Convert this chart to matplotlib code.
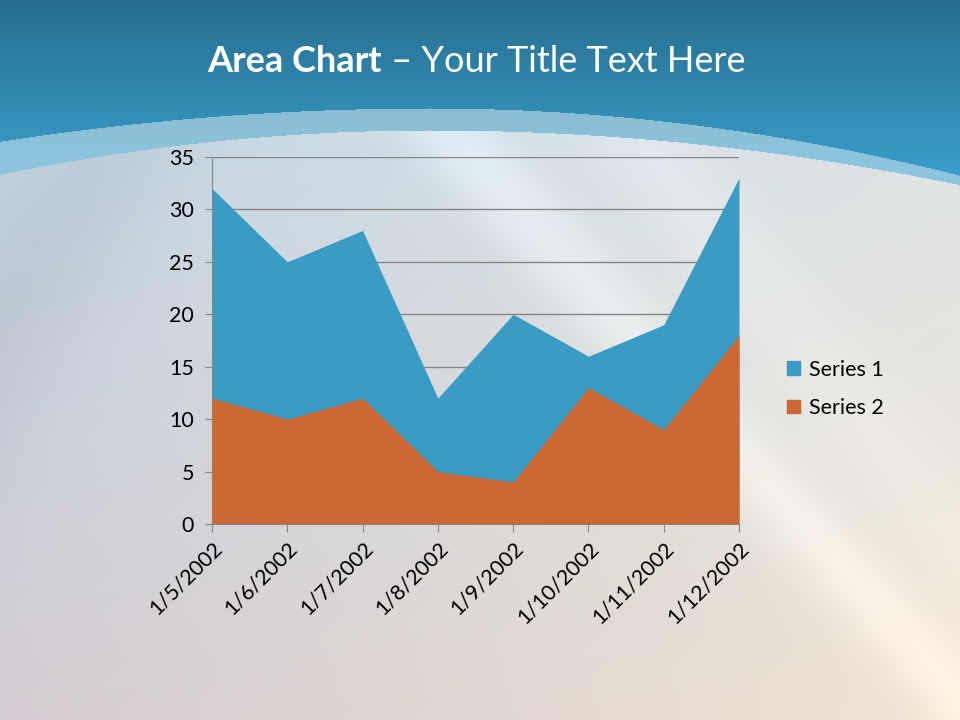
import numpy as np
import matplotlib.pyplot as plt
from matplotlib.patches import Patch

dates = ['1/5/2002', '1/6/2002', '1/7/2002', '1/8/2002',
         '1/9/2002', '1/10/2002', '1/11/2002', '1/12/2002']
series1 = [32, 25, 28, 12, 20, 16, 19, 33]
series2 = [12, 10, 12, 5, 4, 13, 9, 18]
yticks = [0, 5, 10, 15, 20, 25, 30, 35]

c_blue = '#3a9bc4'
c_orange = '#cc6833'
font = 'Lato'

W, H = 960, 720
fig = plt.figure(figsize=(W / 100, H / 100), dpi=100)

# ---- slide background ----
yy, xx = np.mgrid[0:H, 0:W].astype(float)
u = xx / W
v = yy / H
tl = np.array([192, 216, 232])
tr = np.array([218, 228, 234])
bl = np.array([212, 204, 210])
br = np.array([240, 228, 210])
low = ((1 - u)[..., None] * (1 - v)[..., None] * tl + u[..., None] * (1 - v)[..., None] * tr
       + (1 - u)[..., None] * v[..., None] * bl + u[..., None] * v[..., None] * br)
# soft diagonal streaks
for x0, slope, wdt, amp in [(440, 0.9, 50, 16), (620, 0.8, 70, 8), (120, -0.6, 90, -10)]:
    d = (xx - x0 - slope * (yy - 120)) / wdt
    low += amp * np.exp(-d ** 2)[..., None]

top_c1 = np.array([38, 110, 142])
top_c2 = np.array([58, 157, 200])
t = np.clip(yy / 170, 0, 1)[..., None]
top = top_c1 * (1 - t) + top_c2 * t

dx = xx - 430
y_top = 108 + np.where(dx < 0, 1.8e-4, 2.4e-4) * dx ** 2
y_low = 130 + np.where(dx < 0, 2.4e-4, 1.95e-4) * dx ** 2

img = low.copy()
band = (yy >= y_top) & (yy < y_low)
img[yy < y_top] = top[yy < y_top]
img[band] = top[band] * 0.5 + np.array([225, 238, 245]) * 0.5
img = np.clip(img, 0, 255).astype(np.uint8)

bg = fig.add_axes([0, 0, 1, 1], zorder=0)
bg.imshow(img, aspect='auto', extent=[0, W, H, 0])
bg.axis('off')

# ---- chart ----
ax = fig.add_axes([212 / W, 1 - 524 / H, 527 / W, 367 / H], zorder=1)
ax.patch.set_alpha(0)
x = np.arange(len(dates))
ax.fill_between(x, 0, series1, color=c_blue, lw=0, zorder=2)
ax.fill_between(x, 0, series2, color=c_orange, lw=0, zorder=3)

ax.set_xlim(0, len(dates) - 1)
ax.set_ylim(0, 35)
ax.set_yticks(yticks)
ax.set_xticks(x)
ax.set_xticklabels(dates, rotation=45, ha='right', rotation_mode='anchor',
                   fontsize=15.5, family=font, color='black')
ax.set_yticklabels([str(v) for v in yticks], fontsize=15.5, family=font, color='black')
ax.grid(axis='y', color='#868686', lw=1)
ax.set_axisbelow(True)
for s in ['top', 'right']:
    ax.spines[s].set_visible(False)
for s in ['left', 'bottom']:
    ax.spines[s].set_color('#868686')
ax.spines['bottom'].set_zorder(4)
ax.tick_params(axis='x', direction='out', length=6, color='#868686', pad=4)
ax.tick_params(axis='y', direction='out', length=5, color='#868686', pad=8)

handles = [Patch(color=c_blue, label='Series 1'), Patch(color=c_orange, label='Series 2')]
fig.legend(handles=handles, loc='center left', bbox_to_anchor=(768 / W, 1 - 389 / H),
           frameon=False, prop={'family': font, 'size': 15.5}, handlelength=0.6,
           handleheight=0.6, handletextpad=0.4, labelspacing=0.85)

# ---- title ----
t1 = fig.text(207 / W, 1 - 62 / H, 'Area Chart', fontsize=26, fontweight='bold',
              family=font, color='white', va='center', ha='left')
fig.canvas.draw()
bb = t1.get_window_extent()
fig.text(bb.x1 / W, 1 - 62 / H, ' \u2013 Your Title Text Here', fontsize=26,
         family=font, color='white', va='center', ha='left')

fig.savefig('out.png', dpi=100)
